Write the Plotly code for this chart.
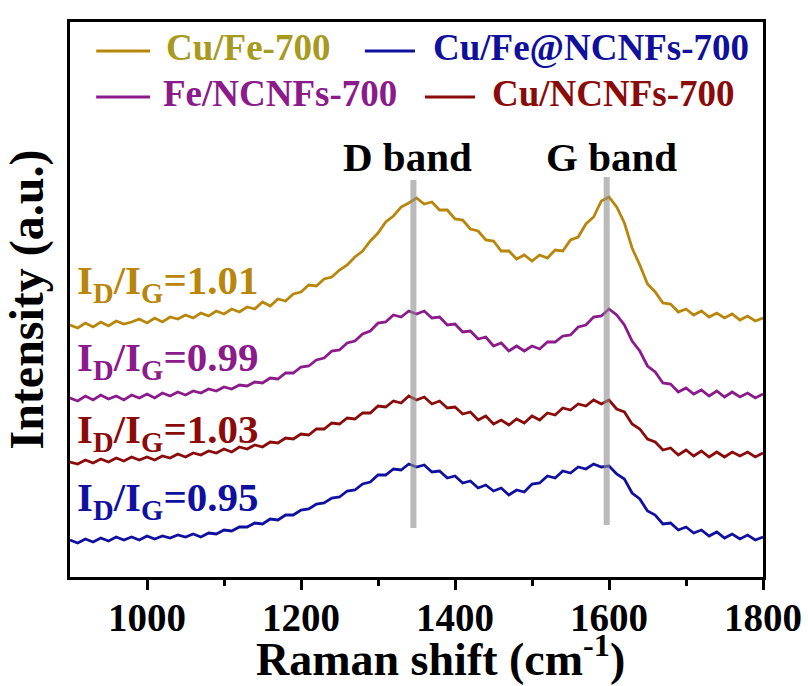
import plotly.graph_objects as go

raman_shift = list(range(900, 1801, 10))

cu_fe_700 = [252,249,254,250,255,251,256,253,255,258,254,259,255,260,258,262,259,264,261,266,
             263,268,265,270,268,275,271,278,276,283,285,292,291,298,300,307,312,320,326,336,
             344,355,361,370,374,379,373,375,367,367,358,357,348,346,337,336,326,326,318,322,
             316,322,319,327,326,337,340,353,360,376,380,370,354,329,312,293,285,274,273,265,
             268,262,266,260,264,259,263,257,261,256,259]
fe_ncnfs_700 = [179,176,181,177,182,178,181,177,182,179,183,179,184,181,185,182,186,184,188,186,
                190,188,192,191,195,194,199,198,204,204,210,211,217,219,226,227,234,236,243,246,
                254,255,262,260,266,263,266,259,260,252,253,245,246,238,240,231,234,226,231,226,
                231,228,235,235,241,242,250,252,260,261,268,262,252,236,226,211,205,194,193,185,
                189,183,187,181,186,180,185,180,184,179,183]
cu_ncnfs_700 = [115,113,117,114,118,115,119,116,120,117,120,117,121,119,123,120,124,122,126,124,
                128,125,130,128,132,130,135,134,139,138,143,142,148,148,154,153,159,158,164,164,
                171,170,176,174,181,177,180,173,176,169,170,163,165,157,161,153,157,152,158,154,
                161,157,164,162,169,167,173,171,177,173,177,168,165,153,148,138,135,127,129,122,
                127,121,126,120,125,120,125,121,125,120,124]
cu_fe_ncnfs_700 = [37,34,38,35,39,36,40,37,40,37,41,38,41,39,42,40,43,40,44,43,
                   47,46,50,50,54,53,58,57,62,62,67,68,73,74,79,80,86,87,93,95,
                   102,102,108,107,113,110,112,105,106,99,101,94,96,89,92,86,89,82,87,85,
                   93,94,101,99,106,104,110,108,113,110,111,103,98,84,78,66,62,53,54,47,
                   50,44,47,41,45,39,43,38,42,37,40]

series_names = ["Cu/Fe-700", "Cu/Fe@NCNFs-700", "Fe/NCNFs-700", "Cu/NCNFs-700"]
series_data = [cu_fe_700, cu_fe_ncnfs_700, fe_ncnfs_700, cu_ncnfs_700]
line_colors = ["#B8860B", "#1010A0", "#8B1A8B", "#8B0A0A"]
legend_text_colors = ["#A89A1E", "#10109A", "#8B1A8B", "#8B0A0A"]

ratio_labels = ["1.01", "0.99", "1.03", "0.95"]
ratio_colors = ["#B8860B", "#8B1A8B", "#8B0A0A", "#1010A0"]
ratio_y = [294, 217, 145, 77]

d_band, g_band = 1346, 1597
band_range = [(49, 397), (52, 400)]

FONT = "Liberation Serif"


def f(size, color="black"):
    return dict(family=FONT, size=size, color=color, weight="bold")


fig = go.Figure()
for name, ys, col in zip(series_names, series_data, line_colors):
    fig.add_trace(go.Scatter(x=raman_shift, y=ys, mode="lines", name=name,
                             line=dict(color=col, width=2.8), showlegend=False))

shapes = []
for xb, (y0, y1) in zip([d_band, g_band], band_range):
    shapes.append(dict(type="line", x0=xb, x1=xb, y0=y0, y1=y1, xref="x", yref="y",
                       line=dict(color="rgba(140,140,140,0.6)", width=6), layer="above"))

annotations = []
annotations.append(dict(x=1338, y=420, text="D band", showarrow=False, font=f(41)))
annotations.append(dict(x=1603, y=420, text="G band", showarrow=False, font=f(41)))
for lab, col, yv in zip(ratio_labels, ratio_colors, ratio_y):
    annotations.append(dict(x=906, y=yv, xanchor="left", showarrow=False,
                            text="I<sub>D</sub>/I<sub>G</sub>=" + lab, font=f(41, col)))

legend_pos = [(934, 1004, 1022, 530), (1283, 1348, 1369, 530),
              (934, 1004, 1018, 484), (1361, 1426, 1445, 484)]
for (xa, xb2, xt, yl), name, lc, tc in zip(legend_pos, series_names, line_colors, legend_text_colors):
    shapes.append(dict(type="line", x0=xa, x1=xb2, y0=yl - 4, y1=yl - 4, xref="x", yref="y",
                       line=dict(color=lc, width=2.8)))
    annotations.append(dict(x=xt, y=yl, xanchor="left", showarrow=False,
                            text=name, font=f(37, tc)))

annotations.append(dict(x=1381, y=0, xref="x", yref="paper", yanchor="middle", yshift=-79,
                        showarrow=False, text="Raman shift (cm<sup>-1</sup>)", font=f(46)))

fig.update_layout(
    width=808, height=686,
    margin=dict(l=70, r=45, t=22, b=109),
    paper_bgcolor="white", plot_bgcolor="white",
    shapes=shapes, annotations=annotations,
    xaxis=dict(range=[900, 1800], tickvals=[1000, 1200, 1400, 1600, 1800],
               ticks="outside", ticklen=10, tickwidth=3, tickcolor="black",
               minor=dict(tickvals=[1100, 1300, 1500, 1700], ticks="outside", ticklen=6,
                          tickwidth=3, tickcolor="black"),
               showline=True, linewidth=3, linecolor="black", mirror=True,
               showgrid=False, zeroline=False, automargin=False,
               ticklabelstandoff=-6,
               tickfont=f(39)),
    yaxis=dict(range=[0, 555], showticklabels=False, ticks="",
               showline=True, linewidth=3, linecolor="black", mirror=True,
               showgrid=False, zeroline=False, automargin=False,
               title=dict(text="Intensity (a.u.)", standoff=14, font=f(48))),
)

fig.write_html("out.html")
